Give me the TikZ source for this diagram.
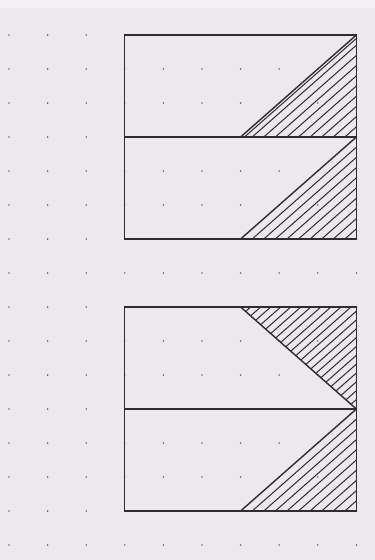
\documentclass[tikz,border=0pt]{standalone}
\definecolor{paper}{HTML}{ECE8EE}
\definecolor{paperlight}{HTML}{F3F1F4}
\definecolor{ink}{HTML}{2E2C30}
\definecolor{dotgrey}{HTML}{6E6A70}

\begin{document}
\begin{tikzpicture}[x=38.6pt,y=-34pt,
  frame/.style={draw=ink,line width=1.3pt},
  hatch/.style={draw=ink,line width=1pt},
  edge/.style={draw=ink,line width=1.4pt}]
% paper and dot grid
\fill[paper] (-0.2332,-1.0294) rectangle (9.4819,15.4412);
\fill[paperlight] (-0.2332,-1.0294) rectangle (9.4819,-0.794);
\useasboundingbox (-0.2332,-1.0294) rectangle (9.4819,15.4412);
\foreach \i in {0,...,9}
  \foreach \j in {0,...,15}
    \fill[dotgrey] (\i,\j) circle (0.9pt);

% upper figure
\begin{scope}
\clip (6,3) -- (9,3) -- (9,0) -- cycle;
\foreach \c in {9.3,9.6,...,12.1} \draw[hatch] (\c,0) -- (\c-3,3);
\end{scope}
\begin{scope}
\clip (6,6) -- (9,6) -- (9,3) -- cycle;
\foreach \c in {12.3,12.6,...,15.1} \draw[hatch] (\c-3,3) -- (\c-6,6);
\end{scope}
\draw[edge] (6,3) -- (9,0);
\draw[hatch] (6.1,3) -- (9,0.1);
\draw[edge] (6,6) -- (9,3);
\draw[frame] (3,0) rectangle (9,6);
\draw[frame] (3,3) -- (9,3);

% lower figure
\begin{scope}
\clip (6,8) -- (9,8) -- (9,11) -- cycle;
\foreach \c in {14.26,14.52,...,20.1} \draw[hatch] (\c-8,8) -- (\c-11,11);
\end{scope}
\begin{scope}
\clip (6,14) -- (9,14) -- (9,11) -- cycle;
\foreach \c in {20.3,20.6,...,23.1} \draw[hatch] (\c-11,11) -- (\c-14,14);
\end{scope}
\draw[edge] (6,8) -- (9,11);
\draw[edge] (6,14) -- (9,11);
\draw[frame] (3,8) rectangle (9,14);
\draw[frame] (3,11) -- (9,11);
\end{tikzpicture}
\end{document}
